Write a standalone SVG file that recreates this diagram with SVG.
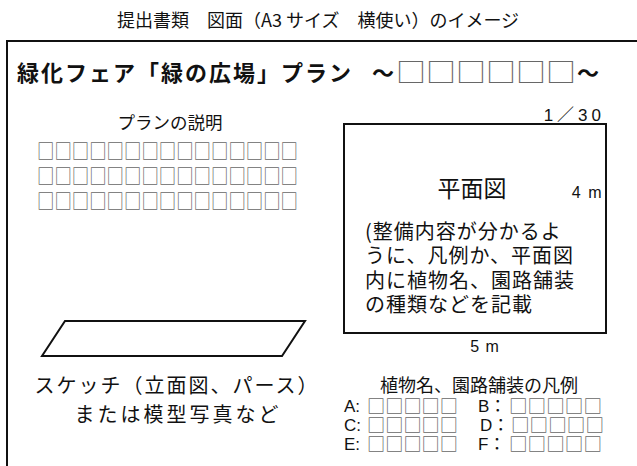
<svg xmlns="http://www.w3.org/2000/svg" width="637" height="466" viewBox="0 0 637 466">
<style>
text{font-family:"Noto Sans CJK JP","Noto Sans",sans-serif;fill:#111}
.box{fill:#666;font-family:"Noto Sans CJK JP",sans-serif;opacity:0.99}
.lat{font-family:"Liberation Sans","Noto Sans CJK JP",sans-serif}
.ln{fill:none;stroke:#111;stroke-width:2}
</style>
<rect width="637" height="466" fill="#fff"/>
<g id="title"><text x="318" y="27" font-size="18" text-anchor="middle">提出書類　図面（A3 サイズ　横使い）のイメージ</text></g>
<g id="frame"><rect class="ln" x="7" y="41" width="640" height="440"/></g>
<g id="header">
<text x="17" y="81" font-size="22" font-weight="bold" letter-spacing="2">緑化フェア「緑の広場」プラン</text>
<text x="372" y="81" font-size="22" font-weight="bold">～</text>
<text class="box" x="396" y="82" font-size="26" textLength="180" lengthAdjust="spacingAndGlyphs">□□□□□□</text>
<text x="577" y="81" font-size="22" font-weight="bold">～</text>
</g>
<g id="explain">
<text x="170" y="129" font-size="17.5" text-anchor="middle">プランの説明</text>
<text class="box" x="37" y="159" font-size="20.5" textLength="261" lengthAdjust="spacingAndGlyphs">□□□□□□□□□□□□□□□</text>
<text class="box" x="37" y="184" font-size="20.5" textLength="261" lengthAdjust="spacingAndGlyphs">□□□□□□□□□□□□□□□</text>
<text class="box" x="37" y="209" font-size="20.5" textLength="261" lengthAdjust="spacingAndGlyphs">□□□□□□□□□□□□□□□</text>
</g>
<g id="plan">
<text class="lat" x="605" y="121" font-size="17" text-anchor="end" letter-spacing="4">1／30</text>
<rect class="ln" x="344" y="124" width="262" height="209"/>
<text x="472" y="197" font-size="23" text-anchor="middle">平面図</text>
<text class="lat" x="603" y="198" font-size="16" text-anchor="end" letter-spacing="1.5">4 m</text>
<text x="365" y="239" font-size="20" letter-spacing="1">(整備内容が分かるよ</text>
<text x="365" y="263" font-size="20" letter-spacing="1">うに、凡例か、平面図</text>
<text x="365" y="288" font-size="20" letter-spacing="1">内に植物名、園路舗装</text>
<text x="365" y="312" font-size="20" letter-spacing="1">の種類などを記載</text>
<text class="lat" x="485" y="352" font-size="16" text-anchor="middle" letter-spacing="1">5 m</text>
</g>
<g id="sketch">
<polygon class="ln" stroke-width="1.5" points="65,321 305,321 282,356 42,356"/>
<text x="177" y="393" font-size="20" text-anchor="middle" letter-spacing="2">スケッチ（立面図、パース）</text>
<text x="178" y="422" font-size="20" text-anchor="middle" letter-spacing="3">または模型写真など</text>
</g>
<g id="legend">
<text x="479" y="392" font-size="18" text-anchor="middle">植物名、園路舗装の凡例</text>
<text class="lat" x="344" y="412" font-size="17">A:</text>
<text class="box" x="367" y="413" font-size="18.5" textLength="91" lengthAdjust="spacingAndGlyphs">□□□□□</text>
<text class="lat" x="478" y="412" font-size="17">B：</text>
<text class="box" x="509" y="413" font-size="18.5" textLength="93" lengthAdjust="spacingAndGlyphs">□□□□□</text>
<text class="lat" x="344" y="431" font-size="17">C:</text>
<text class="box" x="367" y="432" font-size="18.5" textLength="91" lengthAdjust="spacingAndGlyphs">□□□□□</text>
<text class="lat" x="480" y="431" font-size="17">D：</text>
<text class="box" x="511" y="432" font-size="18.5" textLength="93" lengthAdjust="spacingAndGlyphs">□□□□□</text>
<text class="lat" x="344" y="450" font-size="17">E:</text>
<text class="box" x="367" y="451" font-size="18.5" textLength="91" lengthAdjust="spacingAndGlyphs">□□□□□</text>
<text class="lat" x="478" y="450" font-size="17">F：</text>
<text class="box" x="509" y="451" font-size="18.5" textLength="93" lengthAdjust="spacingAndGlyphs">□□□□□</text>
</g>
</svg>
